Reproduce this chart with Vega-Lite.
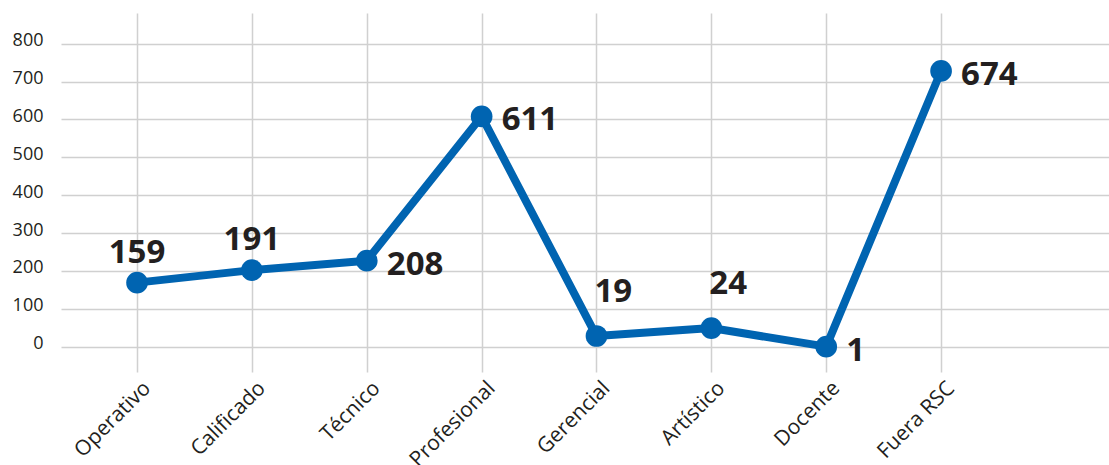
{
  "$schema": "https://vega.github.io/schema/vega-lite/v6.json",
  "autosize": {"type": "none"},
  "padding": {"left": 61, "top": 13, "right": 0, "bottom": 93},
  "width": 1048,
  "height": 359,
  "background": "white",
  "config": {
    "view": {"stroke": null},
    "font": "Open Sans"
  },
  "data": {
    "values": [
      {"categoria": "Operativo", "posicion": 169, "etiqueta": "159"},
      {"categoria": "Calificado", "posicion": 202, "etiqueta": "191"},
      {"categoria": "Técnico", "posicion": 227, "etiqueta": "208"},
      {"categoria": "Profesional", "posicion": 608, "etiqueta": "611"},
      {"categoria": "Gerencial", "posicion": 28, "etiqueta": "19"},
      {"categoria": "Artístico", "posicion": 49, "etiqueta": "24"},
      {"categoria": "Docente", "posicion": 0, "etiqueta": "1"},
      {"categoria": "Fuera RSC", "posicion": 728, "etiqueta": "674"}
    ]
  },
  "encoding": {
    "x": {
      "field": "categoria",
      "type": "ordinal",
      "sort": null,
      "scale": {
        "type": "point",
        "domain": ["Operativo", "Calificado", "Técnico", "Profesional", "Gerencial", "Artístico", "Docente", "Fuera RSC", " "],
        "padding": 0.562,
        "align": 0.589
      },
      "axis": {
        "title": null,
        "domain": false,
        "ticks": false,
        "grid": true,
        "values": ["Operativo", "Calificado", "Técnico", "Profesional", "Gerencial", "Artístico", "Docente", "Fuera RSC"],
        "gridColor": "#d0d0d0",
        "gridWidth": 1.5,
        "labelAngle": -45,
        "labelFontSize": 21,
        "labelColor": "#231f20",
        "labelPadding": 5,
        "labelOffset": 2
      }
    },
    "y": {
      "field": "posicion",
      "type": "quantitative",
      "scale": {"domain": [-67, 881], "nice": false, "zero": false},
      "axis": {
        "title": null,
        "domain": false,
        "ticks": false,
        "values": [0, 100, 200, 300, 400, 500, 600, 700, 800],
        "gridColor": "#d0d0d0",
        "gridWidth": 1.5,
        "labelFontSize": 18,
        "labelColor": "#231f20",
        "labelPadding": 18,
        "labelOffset": -3
      }
    }
  },
  "layer": [
    {"mark": {"type": "line", "color": "#0064b1", "strokeWidth": 8, "strokeJoin": "round"}},
    {"mark": {"type": "point", "filled": true, "opacity": 1, "color": "#0064b1", "size": 470}},
    {
      "transform": [{"filter": {"field": "categoria", "oneOf": ["Operativo", "Calificado"]}}],
      "mark": {"type": "text", "align": "center", "baseline": "alphabetic", "dy": -20, "fontSize": 33, "fontWeight": "bold", "color": "#231f20"},
      "encoding": {"text": {"field": "etiqueta"}}
    },
    {
      "transform": [{"filter": {"field": "categoria", "oneOf": ["Gerencial", "Artístico"]}}],
      "mark": {"type": "text", "align": "left", "baseline": "alphabetic", "dx": -2, "dy": -34, "fontSize": 33, "fontWeight": "bold", "color": "#231f20"},
      "encoding": {"text": {"field": "etiqueta"}}
    },
    {
      "transform": [{"filter": {"field": "categoria", "oneOf": ["Técnico", "Profesional", "Docente", "Fuera RSC"]}}],
      "mark": {"type": "text", "align": "left", "baseline": "alphabetic", "dx": 20, "dy": 14, "fontSize": 33, "fontWeight": "bold", "color": "#231f20"},
      "encoding": {"text": {"field": "etiqueta"}}
    }
  ]
}
